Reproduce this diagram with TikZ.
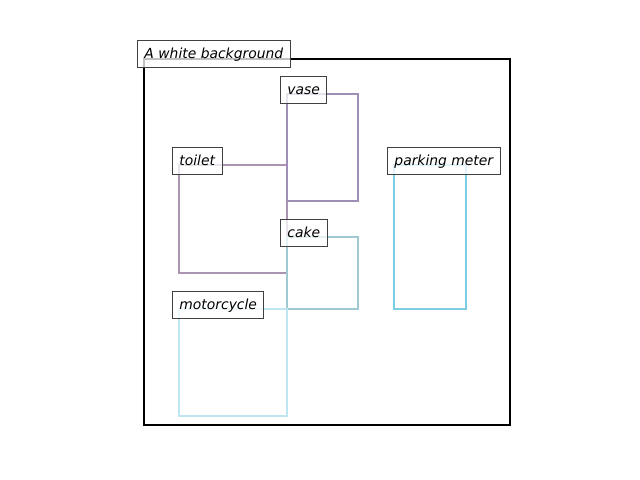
\documentclass[tikz,border=0pt]{standalone}
\usepackage{fontspec}
\setsansfont{DejaVu Sans}
\begin{document}
\begin{tikzpicture}[x=0.72pt,y=-0.72pt,
  frame/.style={draw=black,line width=1.5pt},
  obj/.style={line width=1.5pt},
  lbl/.style={draw=black!75,line width=0.7pt,fill=white,fill opacity=0.75,text opacity=1,
    font=\sffamily\itshape\fontsize{10pt}{12pt}\selectfont,anchor=west,
    inner xsep=5pt,inner ysep=4.8pt,text height=8.3pt,text depth=1.7pt}]
\definecolor{cvase}{RGB}{159,143,183}
\definecolor{ctoilet}{RGB}{170,148,178}
\definecolor{ccake}{RGB}{159,201,211}
\definecolor{cmeter}{RGB}{127,205,227}
\definecolor{cmoto}{RGB}{189,230,242}
\useasboundingbox (0,0) rectangle (640,480);
\draw[frame] (144,59) rectangle (510,425);
\draw[obj,draw=ctoilet] (179,165) rectangle (287,273);
\draw[obj,draw=cvase] (287,94) rectangle (358,201);
\draw[obj,draw=ccake] (287,237) rectangle (358,309);
\draw[obj,draw=cmeter] (394,165) rectangle (466,309);
\draw[obj,draw=cmoto] (179,309) rectangle (287,416);
\node[lbl] (lbg) at (137,54) {A white background};
\node[lbl] (lvase) at (280,90) {vase};
\node[lbl] (ltoilet) at (172,161) {toilet};
\node[lbl] (lcake) at (280,233) {cake};
\node[lbl] (lmeter) at (387,161) {parking meter};
\node[lbl] (lmoto) at (172,305) {motorcycle};
\end{tikzpicture}
\end{document}
